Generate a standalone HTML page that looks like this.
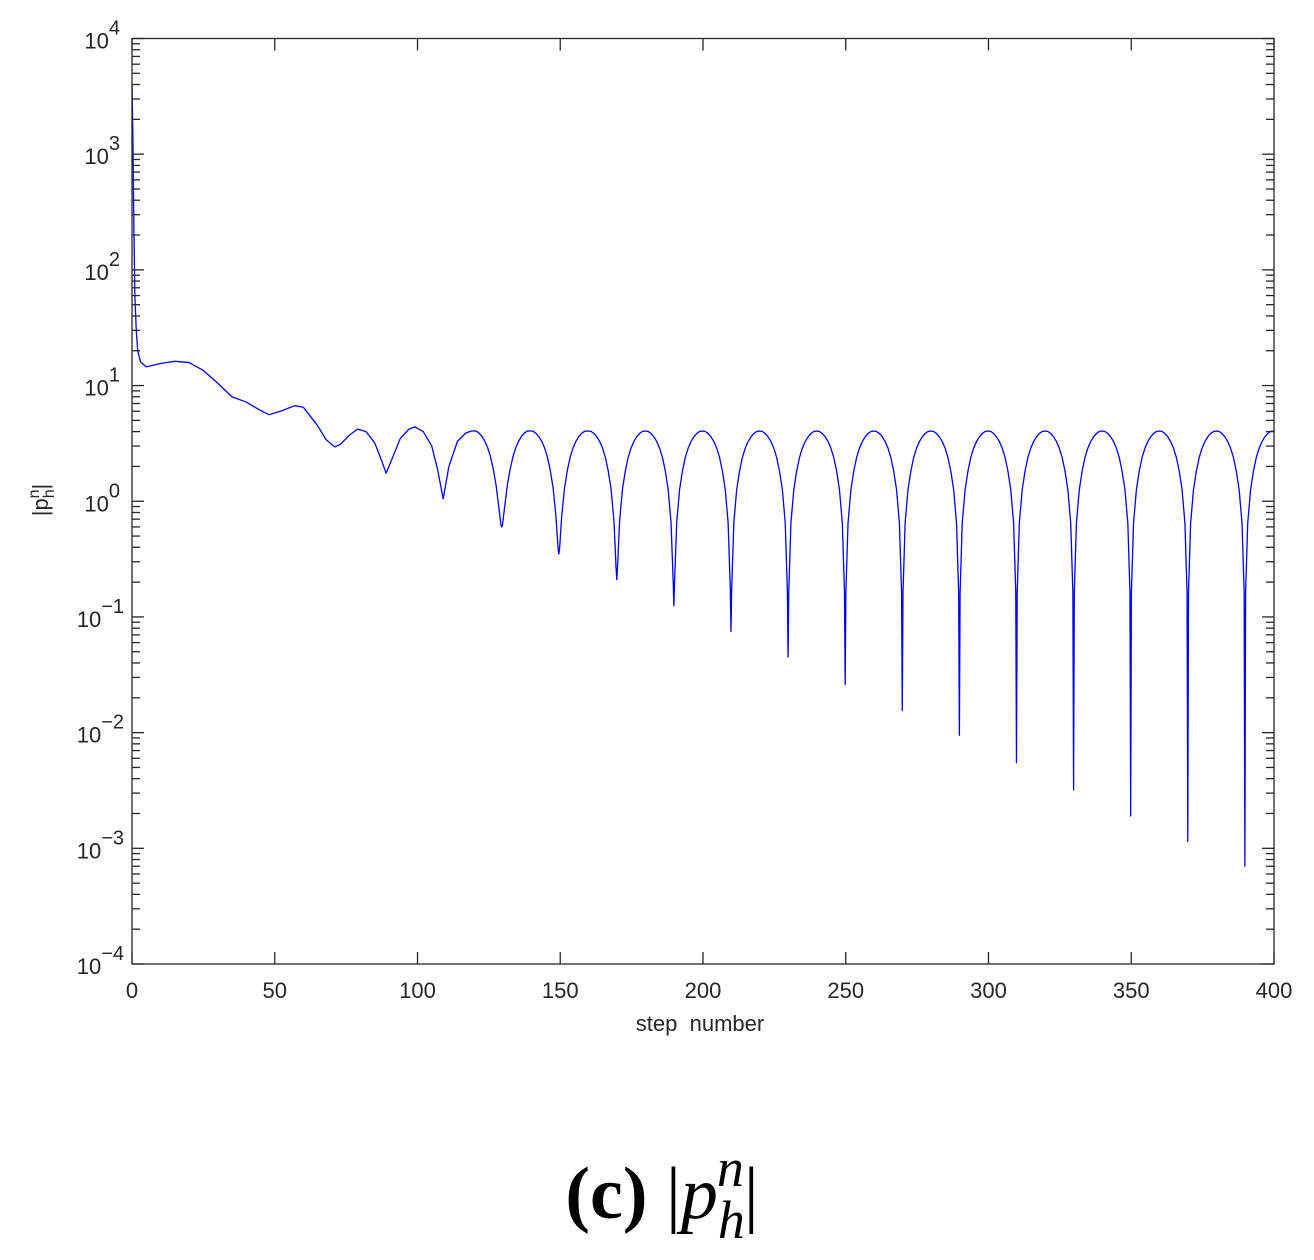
<!DOCTYPE html>
<html><head><meta charset="utf-8"><style>
html,body{margin:0;padding:0;background:#fff;}
svg{display:block;}
</style></head><body>
<svg id="chart" width="1314" height="1260" xmlns="http://www.w3.org/2000/svg">
<rect x="0" y="0" width="1314" height="1260" fill="#fff"/>
<path id="series" fill="none" stroke="#0000ff" stroke-width="1.3" stroke-linejoin="round"/>
<rect x="132" y="38.5" width="1142" height="925.5" fill="none" stroke="#262626" stroke-width="1.3"/>
<g id="ticks"></g>
<text x="700" y="1031" font-family="Liberation Sans, sans-serif" font-size="22" fill="#262626" text-anchor="middle" xml:space="preserve">step  number</text>
<text transform="translate(48,500) rotate(-90)" font-family="Liberation Sans, sans-serif" font-size="22" fill="#262626" text-anchor="middle">|p<tspan font-size="16" dy="6">h</tspan><tspan font-size="16" dx="-9" dy="-15">n</tspan><tspan dy="9">|</tspan></text>
<text x="662" y="1218" font-family="Liberation Serif, serif" font-size="74" fill="#000" text-anchor="middle"><tspan font-weight="bold">(c)</tspan> |<tspan font-style="italic">p</tspan><tspan font-style="italic" font-size="54" dy="20">h</tspan><tspan font-style="italic" font-size="54" dx="-28" dy="-52">n</tspan><tspan dy="32">|</tspan></text>
</svg>
<script>
// ---- data ----
const earlySteps = [0, 0.3, 0.6, 1, 1.5, 2, 3, 5, 10, 15, 20, 25, 30, 35, 40, 45, 48, 52, 57, 60, 65, 68, 71, 73, 76, 79, 82, 85, 87, 89, 91, 94, 97, 99, 102, 105, 107, 109, 111, 114, 117, 119];
const earlyValues = [4000, 1500, 300, 60, 30, 20, 16, 14.5, 15.5, 16.2, 15.8, 13.5, 10.5, 8, 7.2, 6.1, 5.6, 6, 6.7, 6.5, 4.5, 3.4, 2.95, 3.1, 3.7, 4.2, 4.0, 3.2, 2.4, 1.75, 2.3, 3.5, 4.2, 4.4, 4.0, 3.0, 1.9, 1.05, 2.0, 3.3, 3.9, 4.05];
const troughSteps = [129.5, 149.5, 169.8, 189.8, 209.8, 229.8, 249.8, 269.8, 289.8, 309.8, 329.8, 349.8, 369.8, 389.8];
const troughValues = [0.6, 0.35, 0.21, 0.125, 0.075, 0.045, 0.026, 0.0155, 0.0095, 0.0055, 0.0032, 0.0019, 0.00115, 0.0007];
const peakValues = [4.05, 4.05, 4.05, 4.05, 4.05, 4.05, 4.05, 4.05, 4.05, 4.05, 4.05, 4.05, 4.05, 4.05, 4.05];
const xTicks = [0, 50, 100, 150, 200, 250, 300, 350, 400];
const yExps = [-4, -3, -2, -1, 0, 1, 2, 3, 4];

// ---- axes ----
const X0 = 132, X1 = 1274, Y0 = 964, Y1 = 38.5;
const xs = v => X0 + (v - 0) / 400 * (X1 - X0);
const ys = v => Y0 - (Math.log10(v) + 4) / 8 * (Y0 - Y1);

const pts = [];
for (let i = 0; i < earlySteps.length; i++) pts.push([earlySteps[i], earlyValues[i]]);
const prof = [[1, 0.16], [2, 0.31], [3, 0.45], [4, 0.59], [5, 0.71], [6, 0.81], [7, 0.89], [8, 0.95], [9, 0.99]];
for (let k = 0; k < troughSteps.length; k++) {
  const t = troughSteps[k], tv = troughValues[k];
  const pPrev = peakValues[k], pNext = peakValues[k + 1];
  for (let j = prof.length - 1; j >= 0; j--) {
    const a = pPrev * prof[j][1];
    pts.push([t - prof[j][0], Math.sqrt(a * a + tv * tv)]);
  }
  pts.push([t - 0.25, Math.sqrt(Math.pow(pPrev * 0.04, 2) + tv * tv)]);
  pts.push([t, tv]);
  pts.push([t + 0.25, Math.sqrt(Math.pow(pNext * 0.04, 2) + tv * tv)]);
  for (let j = 0; j < prof.length; j++) {
    const a = pNext * prof[j][1];
    const s = t + prof[j][0];
    if (s <= 400) pts.push([s, Math.sqrt(a * a + tv * tv)]);
  }
  if (t + 10 <= 400) pts.push([Math.min(t + 10, 400), pNext]);
}
pts.sort((a, b) => a[0] - b[0]);
document.getElementById('series').setAttribute('d', pts.map((p, i) => (i ? 'L' : 'M') + xs(p[0]).toFixed(2) + ' ' + ys(p[1]).toFixed(2)).join(' '));

const NS = 'http://www.w3.org/2000/svg';
const tg = document.getElementById('ticks');
function line(x1, y1, x2, y2, name) {
  const l = document.createElementNS(NS, 'line');
  l.setAttribute('x1', x1); l.setAttribute('y1', y1); l.setAttribute('x2', x2); l.setAttribute('y2', y2);
  l.setAttribute('stroke', '#262626'); l.setAttribute('stroke-width', '1.3');
  
  
  tg.appendChild(l);
}
function text(x, y, anchor, name) {
  const t = document.createElementNS(NS, 'text');
  t.setAttribute('x', x); t.setAttribute('y', y); t.setAttribute('text-anchor', anchor);
  t.setAttribute('font-family', 'Liberation Sans, sans-serif'); t.setAttribute('font-size', '22'); t.setAttribute('fill', '#262626');
  
  
  tg.appendChild(t);
  return t;
}
xTicks.forEach(v => {
  const x = xs(v);
  line(x, Y0, x, Y0 - 12, 'x-tick');
  line(x, Y1, x, Y1 + 12, 'x-tick-top');
  const t = text(x, 998, 'middle', 'x-tick-label');
  t.textContent = v;
});
yExps.forEach(e => {
  const y = ys(Math.pow(10, e));
  line(X0, y, X0 + 12, y, 'y-tick');
  line(X1, y, X1 - 12, y, 'y-tick-right');
  if (e < 4) for (let m = 2; m <= 9; m++) {
    const ym = ys(m * Math.pow(10, e));
    line(X0, ym, X0 + 8, ym, 'y-minor-tick');
    line(X1, ym, X1 - 8, ym, 'y-minor-tick-right');
  }
  const t = text(e < 0 ? 124 : 120, y + 10, 'end', 'y-tick-label');
  const a = document.createElementNS(NS, 'tspan'); a.textContent = '10';
  const b = document.createElementNS(NS, 'tspan'); b.setAttribute('dy', '-14'); b.setAttribute('font-size', '20');
  b.textContent = e < 0 ? '\u2212' + (-e) : String(e);
  t.appendChild(a); t.appendChild(b);
});
</script>
</body></html>
